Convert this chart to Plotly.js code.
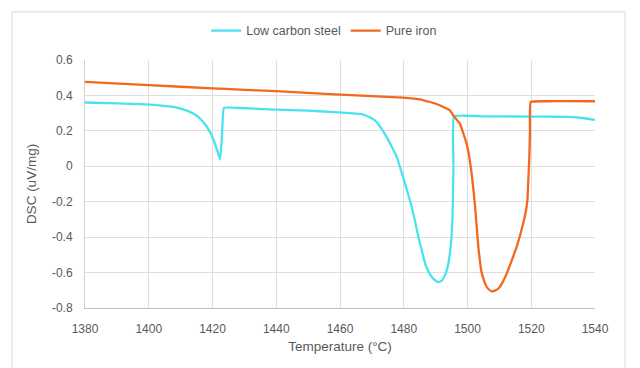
<!DOCTYPE html>
<html>
<head>
<meta charset="utf-8">
<script src="https://cdn.plot.ly/plotly-3.0.1.min.js"></script>
<style>html,body{margin:0;padding:0;background:#fff;}#chart{width:640px;height:368px;}</style>
</head>
<body>
<div id="chart"></div>
<script>
// Low carbon steel
var steelT = [1380,1390,1399.3,1404,1407.7,1410.5,1412.9,1415,1416.6,1418,1419.2,1420.2,1421.1,1421.8,1422.4,1423.0,1423.6,1428.6,1440,1450,1456.9,1462,1467.3,1469.5,1471.5,1473,1474.6,1476.2,1477.8,1479.1,1480.4,1481.5,1482.5,1483.6,1484.6,1485.7,1486.7,1487.8,1488.8,1489.9,1490.9,1492,1492.9,1493.8,1494.5,1495.0,1495.3,1495.6,1495.8,1505,1515,1525,1531,1535.3,1540];
var steelV = [0.360,0.355,0.349,0.343,0.335,0.323,0.307,0.287,0.260,0.229,0.194,0.155,0.110,0.072,0.038,0.180,0.330,0.329,0.320,0.314,0.307,0.301,0.292,0.275,0.250,0.212,0.166,0.112,0.053,-0.020,-0.098,-0.165,-0.230,-0.315,-0.400,-0.478,-0.550,-0.596,-0.625,-0.645,-0.654,-0.645,-0.616,-0.565,-0.490,-0.400,-0.286,0.000,0.282,0.282,0.281,0.280,0.279,0.274,0.262];
// Pure iron
var ironT = [1380,1400,1420,1428.6,1440,1456.9,1470,1479.9,1485,1488.2,1490.5,1492.4,1494.5,1495.5,1497.6,1498.7,1499.7,1500.5,1501.3,1501.9,1502.4,1502.9,1503.4,1503.9,1504.4,1505.2,1506,1506.8,1507.6,1508.6,1509.7,1511,1512.3,1513.8,1515.4,1516.5,1517.5,1518.3,1518.8,1519.1,1519.4,1519.6,1519.8,1525,1530,1540];
var ironV = [0.476,0.458,0.440,0.433,0.424,0.407,0.396,0.388,0.378,0.363,0.350,0.335,0.316,0.288,0.241,0.185,0.128,0.060,-0.041,-0.140,-0.230,-0.345,-0.456,-0.535,-0.597,-0.645,-0.680,-0.697,-0.706,-0.702,-0.690,-0.655,-0.606,-0.535,-0.456,-0.390,-0.320,-0.255,-0.190,-0.070,0.050,0.200,0.363,0.367,0.368,0.367];

var seriesNames = ["Low carbon steel", "Pure iron"];
var xTicks = [1380,1400,1420,1440,1460,1480,1500,1520,1540];
var yTicks = [0.6,0.4,0.2,0,-0.2,-0.4,-0.6,-0.8];
var yTickText = ["0.6","0.4","0.2","0","-0.2","-0.4","-0.6","-0.8"];

var gray = '#595959';
var fnt = 'Liberation Sans, Arial, sans-serif';

var traces = [
  {x: steelT, y: steelV, name: seriesNames[0], mode: 'lines', line: {color: '#47E4EF', width: 2.3, shape: 'spline', smoothing: 0.3}},
  {x: ironT, y: ironV, name: seriesNames[1], mode: 'lines', line: {color: '#F5681C', width: 2.3, shape: 'spline', smoothing: 0.3}}
];

var layout = {
  width: 640, height: 368,
  margin: {l: 85, r: 45, t: 60, b: 60, pad: 0},
  paper_bgcolor: '#fff', plot_bgcolor: '#fff',
  font: {family: fnt, color: gray, size: 12},
  showlegend: true,
  legend: {orientation: 'h', x: 0.469, xanchor: 'center', y: 1.117, yanchor: 'middle',
           font: {size: 12.5, color: gray}, itemwidth: 30, tracegroupgap: 0, bgcolor: 'rgba(0,0,0,0)'},
  xaxis: {
    range: [1380, 1540], tickvals: xTicks, ticktext: xTicks.map(String),
    showgrid: true, gridcolor: '#dedede', gridwidth: 1,
    showline: true, linecolor: '#bfbfbf', linewidth: 1,
    ticks: '', ticklabelstandoff: 10, zeroline: false,
    tickfont: {size: 12, color: gray},
    title: {text: 'Temperature (°C)', font: {size: 13.5, color: gray}, standoff: 6}
  },
  yaxis: {
    range: [-0.8, 0.6], tickvals: yTicks, ticktext: yTickText,
    showgrid: true, gridcolor: '#dedede', gridwidth: 1,
    showline: true, linecolor: '#d0d0d0', linewidth: 1,
    ticks: '', ticklabelstandoff: 9, zeroline: false,
    tickfont: {size: 12, color: gray},
    title: {text: 'DSC (uV/mg)', font: {size: 13.5, color: gray}, standoff: 12}
  },
  shapes: [{type: 'rect', xref: 'paper', yref: 'paper',
            x0: -0.143, x1: 1.059, y0: -0.3, y1: 1.194,
            line: {color: '#d9d9d9', width: 1}, fillcolor: 'rgba(0,0,0,0)', layer: 'below'}]
};

Plotly.newPlot('chart', traces, layout, {displayModeBar: false, staticPlot: true});
</script>
</body>
</html>
